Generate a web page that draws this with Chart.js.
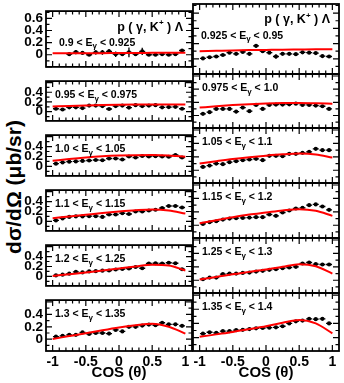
<!DOCTYPE html>
<html>
<head>
<meta charset="utf-8">
<script src="https://cdn.jsdelivr.net/npm/chart.js@4.4.0/dist/chart.umd.min.js"></script>
<style>
  html, body { margin: 0; padding: 0; background: #fff; }
  #wrap { position: relative; width: 344px; height: 383px; overflow: hidden; background: #fff; }
  #wrap canvas { position: absolute; }
  #ytitle {
    position: absolute; left: 14px; top: 187px;
    transform: translate(-50%, -50%) rotate(-90deg);
    font: bold 21px "Liberation Sans", Arial, sans-serif;
    white-space: nowrap; color: #000;
  }
</style>
</head>
<body>
<div id="wrap"><div id="ytitle">dσ/dΩ (μb/sr)</div></div>
<script>
// photon energy bins (GeV)
const eLow  = ['0.9', '0.925', '0.95', '0.975', '1.0', '1.05', '1.1', '1.15', '1.2', '1.25', '1.3', '1.35'];
const eHigh = ['0.925', '0.95', '0.975', '1.0', '1.05', '1.1', '1.15', '1.2', '1.25', '1.3', '1.35', '1.4'];

// cos(theta) bin centres
const binCenters = [-0.95, -0.85, -0.75, -0.65, -0.55, -0.45, -0.35, -0.25, -0.15, -0.05,
                    0.05, 0.15, 0.25, 0.35, 0.45, 0.55, 0.65, 0.75, 0.85, 0.95];
const binCenters1 = [-0.75, -0.65, -0.55, -0.45, -0.35, -0.25, -0.15, -0.05,
                     0.05, 0.15, 0.25, 0.35, 0.45, 0.55, 0.65, 0.75, 0.85, 0.95];

// measured dsigma/dOmega (ub/sr) and errors
const xsec1  = [0.01, 0.045, 0.03, 0.0, 0.04, 0.04, 0.055, 0.01, 0.01, 0.04, 0.01, 0.055, 0.0, 0.0, 0.01, 0.0, 0.01, 0.07];
const err1   = [0.015, 0.035, 0.02, 0.01, 0.035, 0.04, 0.04, 0.045, 0.02, 0.08, 0.02, 0.06, 0.015, 0.01, 0.01, 0.01, 0.01, 0.025];
const xsec2  = [0.005, 0.02, 0.03, 0.05, 0.08, 0.065, 0.09, 0.065, 0.17, 0.1, 0.08, 0.03, 0.065, 0.065, 0.06, 0.085, 0.08, 0.075, 0.035, 0.03];
const err2   = [0.01, 0.01, 0.01, 0.01, 0.015, 0.015, 0.015, 0.02, 0.025, 0.02, 0.015, 0.03, 0.015, 0.015, 0.01, 0.015, 0.015, 0.01, 0.015, 0.015];
const xsec3  = [0.06, 0.045, 0.09, 0.09, 0.075, 0.125, 0.125, 0.115, 0.055, 0.115, 0.125, 0.085, 0.135, 0.115, 0.125, 0.135, 0.09, 0.095, 0.1, 0.06];
const err3   = [0.02, 0.01, 0.01, 0.01, 0.02, 0.01, 0.01, 0.01, 0.01, 0.01, 0.01, 0.01, 0.01, 0.01, 0.01, 0.01, 0.01, 0.01, 0.01, 0.015];
const xsec4  = [0.025, 0.05, 0.1, 0.1, 0.1, 0.06, 0.12, 0.065, 0.16, 0.1, 0.16, 0.165, 0.165, 0.17, 0.18, 0.16, 0.16, 0.15, 0.14, 0.1];
const err4   = [0.01, 0.01, 0.01, 0.015, 0.015, 0.025, 0.01, 0.015, 0.01, 0.01, 0.01, 0.01, 0.01, 0.015, 0.01, 0.01, 0.01, 0.01, 0.01, 0.01];
const xsec5  = [0.055, 0.08, 0.095, 0.1, 0.11, 0.12, 0.13, 0.125, 0.16, 0.16, 0.14, 0.2, 0.18, 0.21, 0.2, 0.205, 0.2, 0.195, 0.23, 0.18];
const err5   = [0.015, 0.01, 0.01, 0.01, 0.01, 0.01, 0.015, 0.01, 0.015, 0.01, 0.02, 0.02, 0.01, 0.01, 0.01, 0.01, 0.01, 0.01, 0.015, 0.025];
const xsec6  = [0.05, 0.07, 0.1, 0.09, 0.12, 0.135, 0.15, 0.16, 0.17, 0.15, 0.215, 0.215, 0.21, 0.245, 0.245, 0.26, 0.275, 0.32, 0.3, 0.3];
const err6   = [0.015, 0.01, 0.01, 0.01, 0.01, 0.01, 0.01, 0.01, 0.01, 0.025, 0.01, 0.01, 0.02, 0.01, 0.01, 0.01, 0.01, 0.01, 0.015, 0.02];
const xsec7  = [0.02, 0.06, 0.09, 0.1, 0.1, 0.105, 0.105, 0.09, 0.14, 0.14, 0.165, 0.15, 0.2, 0.2, 0.22, 0.235, 0.27, 0.31, 0.31, 0.28];
const err7   = [0.015, 0.01, 0.01, 0.01, 0.01, 0.01, 0.01, 0.01, 0.01, 0.01, 0.015, 0.01, 0.01, 0.01, 0.01, 0.01, 0.01, 0.01, 0.015, 0.015];
const xsec8  = [0.02, 0.045, 0.06, 0.085, 0.1, 0.105, 0.11, 0.115, 0.12, 0.12, 0.16, 0.14, 0.19, 0.22, 0.25, 0.26, 0.3, 0.31, 0.28, 0.23];
const err8   = [0.01, 0.01, 0.01, 0.01, 0.01, 0.01, 0.01, 0.01, 0.01, 0.01, 0.015, 0.01, 0.01, 0.01, 0.01, 0.01, 0.01, 0.01, 0.015, 0.015];
const xsec9  = [0.02, 0.035, 0.055, 0.09, 0.08, 0.1, 0.105, 0.115, 0.12, 0.14, 0.15, 0.16, 0.19, 0.165, 0.26, 0.265, 0.26, 0.275, 0.265, 0.145];
const err9   = [0.01, 0.01, 0.01, 0.01, 0.01, 0.01, 0.01, 0.01, 0.01, 0.01, 0.01, 0.01, 0.01, 0.015, 0.01, 0.01, 0.01, 0.01, 0.01, 0.02];
const xsec10 = [0.015, 0.04, 0.04, 0.09, 0.1, 0.1, 0.11, 0.115, 0.13, 0.14, 0.155, 0.165, 0.18, 0.19, 0.2, 0.25, 0.265, 0.24, 0.235, 0.235];
const err10  = [0.01, 0.01, 0.01, 0.01, 0.01, 0.01, 0.01, 0.01, 0.01, 0.01, 0.01, 0.01, 0.01, 0.01, 0.01, 0.01, 0.01, 0.01, 0.01, 0.015];
const xsec11 = [0.04, 0.055, 0.07, 0.07, 0.11, 0.085, 0.1, 0.1, 0.09, 0.15, 0.125, 0.2, 0.2, 0.22, 0.235, 0.225, 0.265, 0.24, 0.24, 0.215];
const err11  = [0.01, 0.01, 0.01, 0.01, 0.01, 0.01, 0.01, 0.01, 0.01, 0.015, 0.01, 0.01, 0.01, 0.01, 0.01, 0.01, 0.01, 0.015, 0.015, 0.015];
const xsec12 = [0.055, 0.075, 0.065, 0.09, 0.09, 0.105, 0.11, 0.12, 0.13, 0.135, 0.14, 0.145, 0.16, 0.2, 0.23, 0.24, 0.265, 0.26, 0.265, 0.2];
const err12  = [0.01, 0.01, 0.01, 0.01, 0.01, 0.01, 0.01, 0.01, 0.01, 0.01, 0.01, 0.01, 0.01, 0.01, 0.01, 0.01, 0.01, 0.015, 0.015, 0.02];

// model curves (red line)
const modelCos = [-1, -0.75, -0.5, -0.25, 0, 0.25, 0.5, 0.75, 1];
const model1  = [0.024, 0.025, 0.026, 0.027, 0.029, 0.03, 0.032, 0.033, 0.035];
const model2  = [0.1, 0.105, 0.11, 0.114, 0.117, 0.12, 0.122, 0.124, 0.125];
const model3  = [0.105, 0.118, 0.128, 0.136, 0.142, 0.146, 0.149, 0.15, 0.15];
const model4  = [0.12, 0.14, 0.158, 0.172, 0.182, 0.188, 0.19, 0.186, 0.178];
const model5  = [0.115, 0.15, 0.18, 0.203, 0.218, 0.227, 0.23, 0.222, 0.195];
const model6  = [0.1, 0.135, 0.168, 0.195, 0.218, 0.237, 0.248, 0.235, 0.19];
const model7  = [0.065, 0.1, 0.135, 0.17, 0.2, 0.225, 0.24, 0.22, 0.16];
const model8  = [0.03, 0.075, 0.12, 0.16, 0.19, 0.22, 0.24, 0.215, 0.14];
const model9  = [0.01, 0.045, 0.08, 0.12, 0.16, 0.2, 0.235, 0.22, 0.12];
const model10 = [0.01, 0.05, 0.09, 0.125, 0.16, 0.2, 0.24, 0.21, 0.1];
const model11 = [0.005, 0.05, 0.095, 0.145, 0.19, 0.225, 0.25, 0.2, 0.09];
const model12 = [0.01, 0.045, 0.08, 0.12, 0.16, 0.21, 0.25, 0.2, 0.06];

const xTickValues = [-1, -0.5, 0, 0.5, 1];
const yTicksTop = [0, 0.2, 0.4, 0.6];
const yTicksRest = [0, 0.2, 0.4];

const panels = [
    [binCenters1, xsec1, err1, model1], [binCenters, xsec2, err2, model2],
    [binCenters, xsec3, err3, model3], [binCenters, xsec4, err4, model4],
    [binCenters, xsec5, err5, model5], [binCenters, xsec6, err6, model6],
    [binCenters, xsec7, err7, model7], [binCenters, xsec8, err8, model8],
    [binCenters, xsec9, err9, model9], [binCenters, xsec10, err10, model10],
    [binCenters, xsec11, err11, model11], [binCenters, xsec12, err12, model12]
];

// page layout of the 6x2 pads
const colLeft = [46, 193], colRight = [192, 339];
const rowTop = [1, 74, 128, 183, 238, 293], rowBottom = [74, 128, 183, 238, 293, 351];

const FONT = '"Liberation Sans", Arial, Helvetica, sans-serif';
Chart.defaults.font.family = FONT;
Chart.defaults.color = '#000';
Chart.defaults.animation = false;

const panelDecor = {
    id: 'panelDecor',
    beforeDatasetsDraw(chart) {
        const ctx = chart.ctx, xs = chart.scales.x, ys = chart.scales.y;
        const ds = chart.data.datasets[1];
        const a = chart.chartArea;
        ctx.save();
        ctx.beginPath();
        ctx.rect(a.left, a.top, a.right - a.left, a.bottom - a.top);
        ctx.clip();
        ctx.strokeStyle = '#000';
        ctx.lineWidth = 1.3;
        ds.data.forEach((p, i) => {
            const e = ds.yErr[i];
            const px = xs.getPixelForValue(p.x), py = ys.getPixelForValue(p.y);
            ctx.beginPath();
            ctx.moveTo(px, ys.getPixelForValue(p.y - e));
            ctx.lineTo(px, ys.getPixelForValue(p.y + e));
            ctx.moveTo(xs.getPixelForValue(p.x - 0.045), py);
            ctx.lineTo(xs.getPixelForValue(p.x + 0.045), py);
            ctx.stroke();
        });
        ctx.restore();
    },
    afterDatasetsDraw(chart, args, opts) {
        const ctx = chart.ctx, xs = chart.scales.x, ys = chart.scales.y;
        const { left, right, top, bottom } = chart.chartArea;
        ctx.save();
        ctx.strokeStyle = '#000';
        ctx.lineWidth = 1.2;
        ctx.beginPath();
        for (let k = -10; k <= 10; k++) {
            const px = xs.getPixelForValue(k / 10);
            const len = k % 5 === 0 ? 6 : 3.5;
            ctx.moveTo(px, bottom); ctx.lineTo(px, bottom - len);
            ctx.moveTo(px, top); ctx.lineTo(px, top + len);
        }
        for (let k = Math.ceil(ys.min * 10); k <= Math.floor(ys.max * 10); k++) {
            const py = ys.getPixelForValue(k / 10);
            const len = k % 2 === 0 ? 6 : 3.5;
            ctx.moveTo(left, py); ctx.lineTo(left + len, py);
            ctx.moveTo(right, py); ctx.lineTo(right - len, py);
        }
        ctx.stroke();
        ctx.lineWidth = 1.8;
        ctx.strokeRect(left, top, right - left, bottom - top);

        // energy bin label
        ctx.fillStyle = '#000';
        ctx.textBaseline = 'middle';
        let x = left + opts.labelDx, y = top + opts.labelDy;
        const part1 = opts.lo + ' < E', part2 = ' < ' + opts.hi;
        ctx.font = 'bold 10.5px ' + FONT;
        ctx.fillText(part1, x, y);
        x += ctx.measureText(part1).width;
        ctx.font = 'bold 8px ' + FONT;
        ctx.fillText('γ', x, y + 3);
        x += ctx.measureText('γ').width;
        ctx.font = 'bold 10.5px ' + FONT;
        ctx.fillText(part2, x, y);

        // reaction header on the first row
        if (opts.header) {
            const hy = top + 16;
            const a = 'p ( γ, K', b = '+', c = ' ) Λ';
            ctx.font = 'bold 12.5px ' + FONT;
            const wa = ctx.measureText(a).width, wc = ctx.measureText(c).width;
            ctx.font = 'bold 8px ' + FONT;
            const wb = ctx.measureText(b).width;
            let hx = right - 9 - (wa + wb + wc);
            ctx.font = 'bold 12.5px ' + FONT;
            ctx.fillText(a, hx, hy);
            hx += wa;
            ctx.font = 'bold 8px ' + FONT;
            ctx.fillText(b, hx, hy - 4);
            hx += wb;
            ctx.font = 'bold 12.5px ' + FONT;
            ctx.fillText(c, hx, hy);
        }
        ctx.restore();
    }
};

const wrap = document.getElementById('wrap');

panels.forEach((pd, i) => {
    const r = Math.floor(i / 2), c = i % 2;
    const [cosVals, vals, errs, model] = pd;
    const yMin = r === 0 ? -0.2 : -0.19;
    const yMax = r === 0 ? 0.72 : 0.63;
    const yTicks = r === 0 ? yTicksTop : yTicksRest;
    const bottomRow = r === 5;
    const leftCol = c === 0;

    const cLeft = leftCol ? 0 : colLeft[1] - 4;
    const cRight = Math.min(344, colRight[c] + 4);
    const cTop = Math.max(0, rowTop[r] - 4);
    const cBottom = bottomRow ? 383 : rowBottom[r] + 4;

    const canvas = document.createElement('canvas');
    canvas.width = cRight - cLeft;
    canvas.height = cBottom - cTop;
    canvas.style.left = cLeft + 'px';
    canvas.style.top = cTop + 'px';
    canvas.style.width = canvas.width + 'px';
    canvas.style.height = canvas.height + 'px';
    wrap.appendChild(canvas);

    new Chart(canvas.getContext('2d'), {
        type: 'scatter',
        data: {
            datasets: [
                {
                    type: 'line',
                    data: modelCos.map((x, k) => ({ x: x, y: model[k] })),
                    borderColor: '#ff0000',
                    borderWidth: 2,
                    pointRadius: 0,
                    fill: false,
                    cubicInterpolationMode: 'monotone'
                },
                {
                    data: cosVals.map((x, k) => ({ x: x, y: vals[k] })),
                    yErr: errs,
                    backgroundColor: '#000',
                    borderColor: '#000',
                    pointRadius: 2.1,
                    pointBorderWidth: 0
                }
            ]
        },
        options: {
            responsive: false,
            devicePixelRatio: 1,
            layout: {
                padding: {
                    left: leftCol ? 0 : colLeft[1] - cLeft,
                    right: cRight - colRight[c],
                    top: rowTop[r] - cTop,
                    bottom: bottomRow ? 0 : cBottom - rowBottom[r]
                }
            },
            plugins: {
                legend: { display: false },
                tooltip: { enabled: false },
                panelDecor: {
                    lo: eLow[i], hi: eHigh[i], header: r === 0,
                    labelDx: r === 0 ? (leftCol ? 13 : 8) : 9,
                    labelDy: r === 0 ? 32 : 14.5
                }
            },
            scales: {
                x: {
                    type: 'linear', min: -1.1, max: 1.1,
                    display: bottomRow,
                    grid: { display: false, drawTicks: false },
                    border: { display: false },
                    afterBuildTicks: s => { s.ticks = xTickValues.map(v => ({ value: v })); },
                    afterFit: s => { if (bottomRow) s.height = 383 - rowBottom[5]; },
                    ticks: {
                        padding: 3, maxRotation: 0, autoSkip: false,
                        font: { size: 14, weight: 'bold' },
                        callback: v => String(v)
                    },
                    title: {
                        display: true, text: 'COS (θ)',
                        font: { size: 15, weight: 'bold' },
                        padding: { top: 0, bottom: 1 }
                    }
                },
                y: {
                    type: 'linear', min: yMin, max: yMax,
                    display: leftCol,
                    grid: { display: false, drawTicks: false },
                    border: { display: false },
                    afterBuildTicks: s => { s.ticks = yTicks.map(v => ({ value: v })); },
                    afterFit: s => { if (leftCol) s.width = colLeft[0]; },
                    ticks: {
                        padding: 3, autoSkip: false,
                        font: { size: 13.5, weight: 'bold' },
                        callback: v => String(v)
                    }
                }
            }
        },
        plugins: [panelDecor]
    });
});
</script>
</body>
</html>
